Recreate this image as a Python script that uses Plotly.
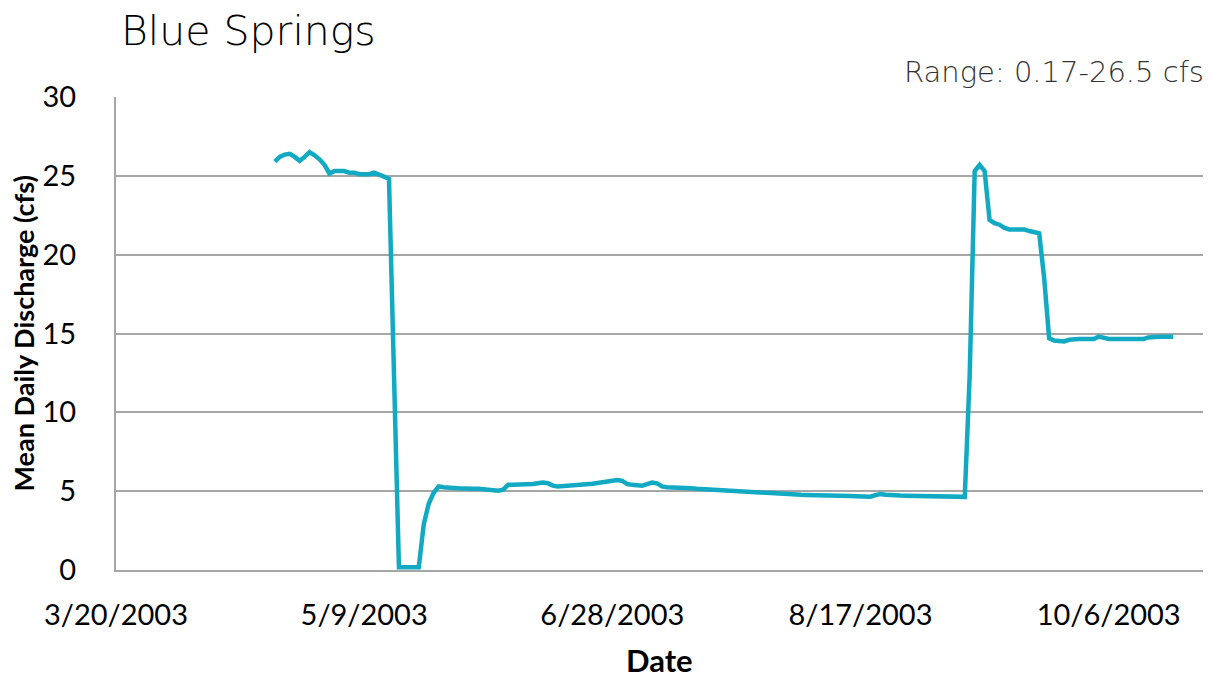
import pandas as pd
import plotly.graph_objects as go

# Mean daily discharge at Blue Springs, one value per day starting 4/21/2003
start_date = "2003-04-21"
discharge = [
    25.9, 26.2, 26.35, 26.4, 26.2, 25.95, 26.2, 26.5, 26.3, 26.05,
    25.7, 25.15, 25.3, 25.3, 25.3, 25.2, 25.2, 25.1, 25.1, 25.1,
    25.2, 25.1, 24.95, 24.8, 12.5, 0.17, 0.17, 0.17, 0.17, 0.17,
    2.9, 4.2, 4.9, 5.3, 5.25, 5.2, 5.2, 5.18, 5.15, 5.15,
    5.15, 5.15, 5.12, 5.1, 5.1, 5.03, 5.1, 5.4, 5.4, 5.4,
    5.4, 5.42, 5.45, 5.5, 5.55, 5.5, 5.35, 5.3, 5.32, 5.33,
    5.35, 5.37, 5.38, 5.42, 5.47, 5.52, 5.57, 5.6, 5.65, 5.7,
    5.65, 5.45, 5.4, 5.4, 5.35, 5.45, 5.55, 5.5, 5.3, 5.25,
    5.25, 5.25, 5.25, 5.22, 5.18, 5.15, 5.13, 5.12, 5.1, 5.08,
    5.05, 5.02, 5.0, 4.98, 4.96, 4.94, 4.92, 4.9, 4.87, 4.85,
    4.83, 4.82, 4.81, 4.8, 4.79, 4.78, 4.77, 4.76, 4.76, 4.75,
    4.74, 4.73, 4.72, 4.71, 4.7, 4.7, 4.69, 4.68, 4.67, 4.66,
    4.65, 4.75, 4.82, 4.78, 4.74, 4.73, 4.72, 4.71, 4.7, 4.69,
    4.69, 4.68, 4.67, 4.67, 4.66, 4.66, 4.65, 4.65, 4.64, 4.64,
    12.4, 25.3, 25.7, 25.3, 22.2, 22.0, 21.9, 21.7, 21.6, 21.6,
    21.6, 21.6, 21.5, 21.4, 21.35, 18.5, 14.7, 14.55, 14.55, 14.5,
    14.6, 14.65, 14.65, 14.65, 14.65, 14.65, 14.8, 14.7, 14.65, 14.65,
    14.65, 14.65, 14.65, 14.65, 14.65, 14.65, 14.75, 14.8, 14.8, 14.8,
    14.8, 14.8,
]
dates = pd.date_range(start_date, periods=len(discharge), freq="D")

tick_dates = ["2003-03-20", "2003-05-09", "2003-06-28", "2003-08-17", "2003-10-06"]
tick_labels = ["3/20/2003", "5/9/2003", "6/28/2003", "8/17/2003", "10/6/2003"]
y_ticks = [0, 5, 10, 15, 20, 25, 30]

grid = "#a6a6a6"
tick_font = dict(family="Lato, Open Sans, sans-serif", size=29, color="#000000")

fig = go.Figure()
fig.add_trace(go.Scatter(x=dates, y=discharge, mode="lines",
                         line=dict(color="#12aac2", width=4.5), hoverinfo="x+y"))

# the page body keeps an 8px margin, so the figure is 8px smaller than the window
fig.update_layout(
    width=1204, height=676,
    margin=dict(l=108, r=9, t=89, b=114),
    paper_bgcolor="white", plot_bgcolor="white",
    showlegend=False,
    xaxis=dict(range=["2003-03-20", "2003-10-25"], tickvals=tick_dates, ticktext=tick_labels,
               showgrid=False, showline=True, linecolor=grid, linewidth=2,
               ticks="", ticklabelstandoff=18, tickfont=tick_font, zeroline=False),
    yaxis=dict(range=[0, 30], tickvals=y_ticks, showgrid=True, gridcolor=grid, gridwidth=2,
               showline=True, linecolor=grid, linewidth=2, ticks="", ticklabelstandoff=32,
               tickfont=tick_font, zeroline=False),
    annotations=[
        dict(text="Blue Springs", xref="paper", yref="paper", x=0, y=1, xanchor="left",
             yanchor="middle", xshift=3, yshift=66, showarrow=False,
             font=dict(family="DejaVu Sans", size=41, weight=200, color="#000000")),
        dict(text="Range: 0.17-26.5 cfs", xref="paper", yref="paper", x=1, y=1,
             xanchor="right", yanchor="middle", xshift=3, yshift=25, showarrow=False,
             font=dict(family="DejaVu Sans", size=29, weight=200, color="#333333")),
        dict(text="<b>Date</b>", xref="paper", yref="paper", x=0.5, y=0, xanchor="center",
             yanchor="middle", yshift=-90, showarrow=False,
             font=dict(family="Lato, Open Sans, sans-serif", size=31, color="#000000")),
        dict(text="<b>Mean Daily Discharge (cfs)</b>", xref="paper", yref="paper", x=0, y=0.5,
             xanchor="center", yanchor="middle", xshift=-93, textangle=-90, showarrow=False,
             font=dict(family="Lato, Open Sans, sans-serif", size=27, color="#000000")),
    ],
)

fig.write_html("out.html")
